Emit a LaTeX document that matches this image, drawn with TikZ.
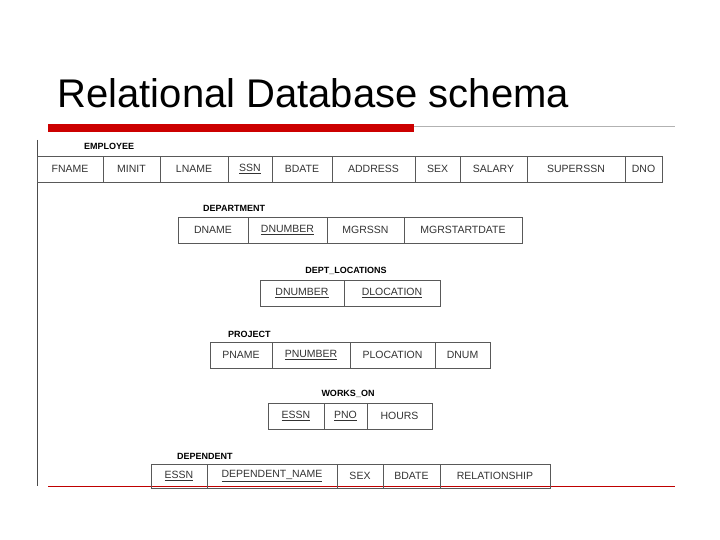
\documentclass[tikz,border=0pt]{standalone}
\usepackage{fontspec}
\setmainfont{Liberation Sans}
\begin{document}
\begin{tikzpicture}[
       x=1pt,y=-1pt,
       cell/.style={
         draw=black!65,
         line width=0.6pt,
         inner sep=0pt,
         minimum height=26pt,
         font=\fontsize{10.5}{12}\selectfont,
         text=black!80
       },
       tname/.style={
         font=\bfseries\fontsize{9}{10}\selectfont,
         inner sep=0pt
       }
     ]
       \useasboundingbox (0,0) rectangle (720,540);

       \node (title) at (54,108) [anchor=base west,font=\fontsize{40}{44}\selectfont]{Relational Database schema};
       \fill[red!80!black] (48,124) rectangle (414,132);
       \draw[black!30,line width=0.5pt] (414,126) -- (675,126);
       \draw[black!70,line width=0.6pt] (37,140) -- (37,486);
       \draw[red!75!black,line width=0.8pt] (48,486) -- (675,486);

       % EMPLOYEE
       \node (employee) at (84,146) [tname,anchor=west]{EMPLOYEE};
       \draw[black!65,line width=0.6pt] (37,156) -- (662,156);
       \node (fname) at (70,169) [cell,minimum width=66]{FNAME};
       \node (minit) at (131.5,169) [cell,minimum width=57]{MINIT};
       \node (lname) at (194,169) [cell,minimum width=68]{LNAME};
       \node (ssn) at (250,169) [cell,minimum width=44]{\underline{SSN}};
       \node (bdate) at (302,169) [cell,minimum width=60]{BDATE};
       \node (address) at (373.5,169) [cell,minimum width=83]{ADDRESS};
       \node (sex) at (437.5,169) [cell,minimum width=45]{SEX};
       \node (salary) at (493.5,169) [cell,minimum width=67]{SALARY};
       \node (superssn) at (576,169) [cell,minimum width=98]{SUPERSSN};
       \node (dno) at (643.5,169) [cell,minimum width=37]{DNO};

       % DEPARTMENT
       \node (department) at (203,208) [tname,anchor=west]{DEPARTMENT};
       \node (dname) at (213,230) [cell,minimum width=70]{DNAME};
       \node (dnumber) at (287.5,230) [cell,minimum width=79]{\underline{DNUMBER}};
       \node (mgrssn) at (365.5,230) [cell,minimum width=77]{MGRSSN};
       \node (mgrstart) at (463,230) [cell,minimum width=118]{MGRSTARTDATE};

       % DEPT_LOCATIONS
       \node (deptloc) at (346,271) [tname]{DEPT\_LOCATIONS};
       \node (ldnumber) at (302,293) [cell,minimum width=84]{\underline{DNUMBER}};
       \node (dlocation) at (392,293) [cell,minimum width=96]{\underline{DLOCATION}};

       % PROJECT
       \node (project) at (228,334) [tname,anchor=west]{PROJECT};
       \node (pname) at (241,355) [cell,minimum width=62]{PNAME};
       \node (pnumber) at (311,355) [cell,minimum width=78]{\underline{PNUMBER}};
       \node (plocation) at (392.5,355) [cell,minimum width=85]{PLOCATION};
       \node (dnum) at (462.5,355) [cell,minimum width=55]{DNUM};

       % WORKS_ON
       \node (workson) at (348,394) [tname]{WORKS\_ON};
       \node (essn) at (296,416) [cell,minimum width=56]{\underline{ESSN}};
       \node (pno) at (345.5,416) [cell,minimum width=43]{\underline{PNO}};
       \node (hours) at (399.5,416) [cell,minimum width=65]{HOURS};

       % DEPENDENT
       \node (dependent) at (177,456) [tname,anchor=west]{DEPENDENT};
       \node (dessn) at (179,476) [cell,minimum width=56,minimum height=24]{\underline{ESSN}};
       \node (depname) at (272,476) [cell,minimum width=130,minimum height=24]{\underline{DEPENDENT\_NAME}};
       \node (dsex) at (360,476) [cell,minimum width=46,minimum height=24]{SEX};
       \node (dbdate) at (411.5,476) [cell,minimum width=57,minimum height=24]{BDATE};
       \node (relation) at (495,476) [cell,minimum width=110,minimum height=24]{RELATIONSHIP};
\end{tikzpicture}
\end{document}
